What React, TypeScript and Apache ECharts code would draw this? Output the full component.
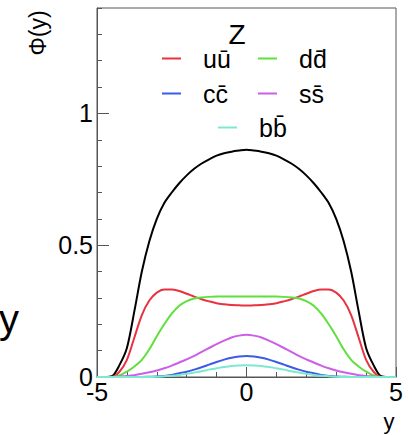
import React, { useEffect, useRef } from "react";
import * as echarts from "echarts";

const xs = [-5, -4.75, -4.5, -4.25, -4, -3.75, -3.5, -3.25, -3, -2.75, -2.5, -2.25, -2, -1.75, -1.5, -1.25, -1, -0.75, -0.5, -0.25, 0, 0.25, 0.5, 0.75, 1, 1.25, 1.5, 1.75, 2, 2.25, 2.5, 2.75, 3, 3.25, 3.5, 3.75, 4, 4.25, 4.5, 4.75, 5];

const totalZ = [0, 0, 0.003, 0.045, 0.11, 0.25, 0.4, 0.515, 0.6, 0.66, 0.7, 0.735, 0.765, 0.79, 0.81, 0.826, 0.84, 0.849, 0.855, 0.859, 0.862, 0.859, 0.855, 0.849, 0.84, 0.826, 0.81, 0.79, 0.765, 0.735, 0.7, 0.66, 0.6, 0.515, 0.4, 0.25, 0.11, 0.045, 0.003, 0, 0];
const uubar = [0, 0, 0, 0.02, 0.065, 0.15, 0.235, 0.29, 0.32, 0.332, 0.332, 0.326, 0.316, 0.305, 0.295, 0.287, 0.28, 0.276, 0.273, 0.272, 0.271, 0.272, 0.273, 0.276, 0.28, 0.287, 0.295, 0.305, 0.316, 0.326, 0.332, 0.332, 0.32, 0.29, 0.235, 0.15, 0.065, 0.02, 0, 0, 0];
const ddbar = [0, 0, 0, 0.006, 0.02, 0.04, 0.065, 0.105, 0.155, 0.2, 0.24, 0.27, 0.288, 0.298, 0.302, 0.304, 0.305, 0.305, 0.305, 0.305, 0.305, 0.305, 0.305, 0.305, 0.305, 0.304, 0.302, 0.298, 0.288, 0.27, 0.24, 0.2, 0.155, 0.105, 0.065, 0.04, 0.02, 0.006, 0, 0, 0];
const ssbar = [0, 0, 0, 0.002, 0.004, 0.007, 0.012, 0.018, 0.025, 0.033, 0.043, 0.055, 0.067, 0.08, 0.095, 0.11, 0.125, 0.138, 0.15, 0.157, 0.16, 0.157, 0.15, 0.138, 0.125, 0.11, 0.095, 0.08, 0.067, 0.055, 0.043, 0.033, 0.025, 0.018, 0.012, 0.007, 0.004, 0.002, 0, 0, 0];
const ccbar = [0, 0, 0, 0, 0, 0, 0, 0.001, 0.002, 0.004, 0.008, 0.014, 0.02, 0.028, 0.037, 0.047, 0.057, 0.066, 0.073, 0.078, 0.08, 0.078, 0.073, 0.066, 0.057, 0.047, 0.037, 0.028, 0.02, 0.014, 0.008, 0.004, 0.002, 0.001, 0, 0, 0, 0, 0, 0, 0];
const bbbar = [0, 0, 0, 0, 0, 0, 0, 0, 0.001, 0.003, 0.005, 0.008, 0.012, 0.017, 0.022, 0.028, 0.033, 0.038, 0.042, 0.044, 0.045, 0.044, 0.042, 0.038, 0.033, 0.028, 0.022, 0.017, 0.012, 0.008, 0.005, 0.003, 0.001, 0, 0, 0, 0, 0, 0, 0, 0];

const nameU = "uu\u0304";
const nameD = "dd\u0304";
const nameC = "cc\u0304";
const nameS = "ss\u0304";
const nameB = "bb\u0304";

const FONT = "Liberation Sans, Arial, Helvetica, sans-serif";
const AXIS_COLOR = "#555";

export default function App() {
  const ref = useRef<HTMLDivElement>(null);

  useEffect(() => {
    if (!ref.current) return;
    const chart = echarts.init(ref.current, undefined, { renderer: "svg" });

    const mk = (name: string, ys: number[], color: string) => ({
      name,
      type: "line",
      data: xs.map((x, i) => [x, ys[i]]),
      smooth: 0.3,
      showSymbol: false,
      symbol: "none",
      lineStyle: { color, width: 2 },
      itemStyle: { color },
      xAxisIndex: 0,
      yAxisIndex: 0,
    });

    const legendItem = (name: string, left: number, top: number) => ({
      data: [name],
      left,
      top,
      padding: 0,
      icon: "rect",
      itemWidth: 19,
      itemHeight: 2,
      selectedMode: false,
      textStyle: {
        fontFamily: FONT,
        fontSize: 25,
        color: "#000",
        padding: [4, 0, 0, 17],
      },
    });

    chart.setOption({
      animation: false,
      backgroundColor: "#fff",
      textStyle: { fontFamily: FONT },
      grid: {
        left: 97,
        right: 13,
        top: 8,
        bottom: 58,
        show: true,
        borderColor: AXIS_COLOR,
        borderWidth: 1,
        containLabel: false,
        outerBoundsMode: "none",
      },
      xAxis: {
        type: "value",
        min: -5,
        max: 5,
        interval: 5,
        axisLine: { show: true, onZero: false, lineStyle: { color: AXIS_COLOR, width: 1 } },
        axisTick: { show: true, inside: true, length: 10, lineStyle: { color: AXIS_COLOR } },
        minorTick: { show: true, splitNumber: 5, length: 5, lineStyle: { color: AXIS_COLOR } },
        splitLine: { show: false },
        minorSplitLine: { show: false },
        axisLabel: { fontFamily: FONT, fontSize: 25, color: "#000", margin: 2 },
      },
      yAxis: [
        {
          type: "value",
          min: 0,
          max: 1.4,
          interval: 0.5,
          axisLine: { show: true, onZero: false, lineStyle: { color: AXIS_COLOR, width: 1 } },
          axisTick: { show: true, inside: true, length: 12, lineStyle: { color: AXIS_COLOR } },
          splitLine: { show: false },
          axisLabel: { fontFamily: FONT, fontSize: 25, color: "#000", margin: 4, showMaxLabel: false },
        },
        {
          type: "value",
          min: 0,
          max: 1.4,
          interval: 0.1,
          position: "left",
          axisLine: { show: false, onZero: false },
          axisTick: { show: true, inside: true, length: 5, lineStyle: { color: AXIS_COLOR } },
          splitLine: { show: false },
          axisLabel: { show: false },
        },
      ],
      legend: [
        legendItem(nameU, 162, 46),
        legendItem(nameD, 258, 46),
        legendItem(nameC, 162, 81),
        legendItem(nameS, 258, 81),
        legendItem(nameB, 218, 115),
      ],
      graphic: [
        {
          type: "text",
          x: 237,
          y: 34,
          style: { text: "Z", font: `28px ${FONT}`, fill: "#000", align: "center", verticalAlign: "middle" },
        },
        {
          type: "text",
          x: 38,
          y: 33,
          rotation: Math.PI / 2,
          style: { text: "\u03A6(y)", font: `23px ${FONT}`, fill: "#000", align: "center", verticalAlign: "middle" },
        },
        {
          type: "text",
          x: 389,
          y: 421,
          style: { text: "y", font: `22px ${FONT}`, fill: "#000", align: "center", verticalAlign: "middle" },
        },
        {
          type: "text",
          x: 9,
          y: 319,
          style: { text: "y", font: `40px ${FONT}`, fill: "#000", align: "center", verticalAlign: "middle" },
        },
      ],
      series: [
        mk("total", totalZ, "#000000"),
        mk(nameU, uubar, "#e8323f"),
        mk(nameD, ddbar, "#5fe03c"),
        mk(nameS, ssbar, "#cc5ee8"),
        mk(nameC, ccbar, "#3b5be8"),
        mk(nameB, bbbar, "#7de8d2"),
      ],
    });

    return () => chart.dispose();
  }, []);

  return (
    <div style={{ position: "fixed", left: 0, top: 0, width: 409, height: 435, background: "#fff" }}>
      <div ref={ref} style={{ width: 409, height: 435 }} />
    </div>
  );
}
